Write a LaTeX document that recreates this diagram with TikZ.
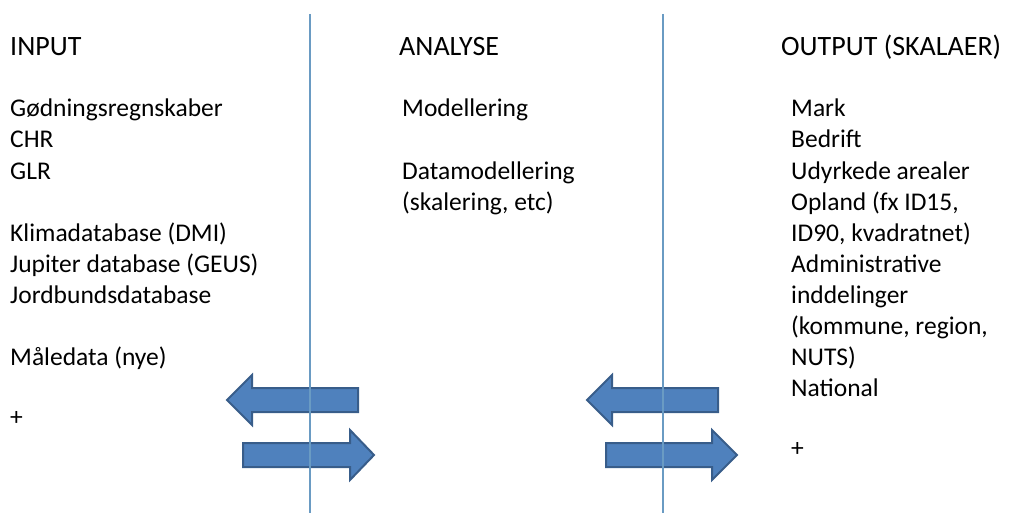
\documentclass[tikz,border=0pt]{standalone}
\usepackage{fontspec}
\setmainfont{Carlito}
\definecolor{arrowfill}{HTML}{4F81BD}
\definecolor{arrowedge}{HTML}{385D8A}
\definecolor{divider}{HTML}{6A9BC3}
\begin{document}
\begin{tikzpicture}[x=1pt,y=-1pt,
  txt/.style={anchor=base west,inner sep=0pt,font=\fontsize{25.5}{31}\selectfont},
  head/.style={anchor=base west,inner sep=0pt,font=\fontsize{28}{33}\selectfont},
  bigarrow/.style={fill=arrowfill,draw=arrowedge,line width=2pt,line join=miter},
  divline/.style={draw=divider,line width=1.3pt}]
\useasboundingbox (0,0) rectangle (1011,513);
% left column
\node[head] (input) at (10,56) {INPUT};
\node[txt] (in1) at (10,117) {Gødningsregnskaber};
\node[txt] (in2) at (10,148) {CHR};
\node[txt] (in3) at (10,179) {GLR};
\node[txt] (in4) at (10,241) {Klimadatabase (DMI)};
\node[txt] (in5) at (10,272) {Jupiter database (GEUS)};
\node[txt] (in6) at (10,303) {Jordbundsdatabase};
\node[txt] (in7) at (10,365) {Måledata (nye)};
\node[txt] (in8) at (10,425) {+};
% middle column
\node[head] (analyse) at (399,56) {ANALYSE};
\node[txt] (an1) at (402,117) {Modellering};
\node[txt] (an2) at (402,179) {Datamodellering};
\node[txt] (an3) at (402,210) {(skalering, etc)};
% right column
\node[head] (output) at (781,56) {OUTPUT (SKALAER)};
\node[txt] (out1) at (791,117) {Mark};
\node[txt] (out2) at (791,148) {Bedrift};
\node[txt] (out3) at (791,179) {Udyrkede arealer};
\node[txt] (out4) at (791,210) {Opland (fx ID15,};
\node[txt] (out5) at (791,241) {ID90, kvadratnet)};
\node[txt] (out6) at (791,272) {Administrative};
\node[txt] (out7) at (791,303) {inddelinger};
\node[txt] (out8) at (791,334) {(kommune, region,};
\node[txt] (out9) at (791,365) {NUTS)};
\node[txt] (out10) at (791,396) {National};
\node[txt] (out11) at (791,456) {+};
% arrows
\path[bigarrow] (227,400) -- (252,375) -- (252,388) -- (358,388) -- (358,412) -- (252,412) -- (252,425) -- cycle;
\path[bigarrow] (374,455) -- (350,430) -- (350,443) -- (243,443) -- (243,467) -- (350,467) -- (350,480) -- cycle;
\path[bigarrow] (587,400) -- (612,375) -- (612,388) -- (718,388) -- (718,412) -- (612,412) -- (612,425) -- cycle;
\path[bigarrow] (737,455) -- (712,430) -- (712,443) -- (606,443) -- (606,467) -- (712,467) -- (712,480) -- cycle;
% dividers
\coordinate (d1t) at (310,14);
\coordinate (d1b) at (310,513);
\coordinate (d2t) at (663,14);
\coordinate (d2b) at (663,513);
\draw[divline] (d1t) -- (d1b);
\draw[divline] (d2t) -- (d2b);
\end{tikzpicture}
\end{document}
